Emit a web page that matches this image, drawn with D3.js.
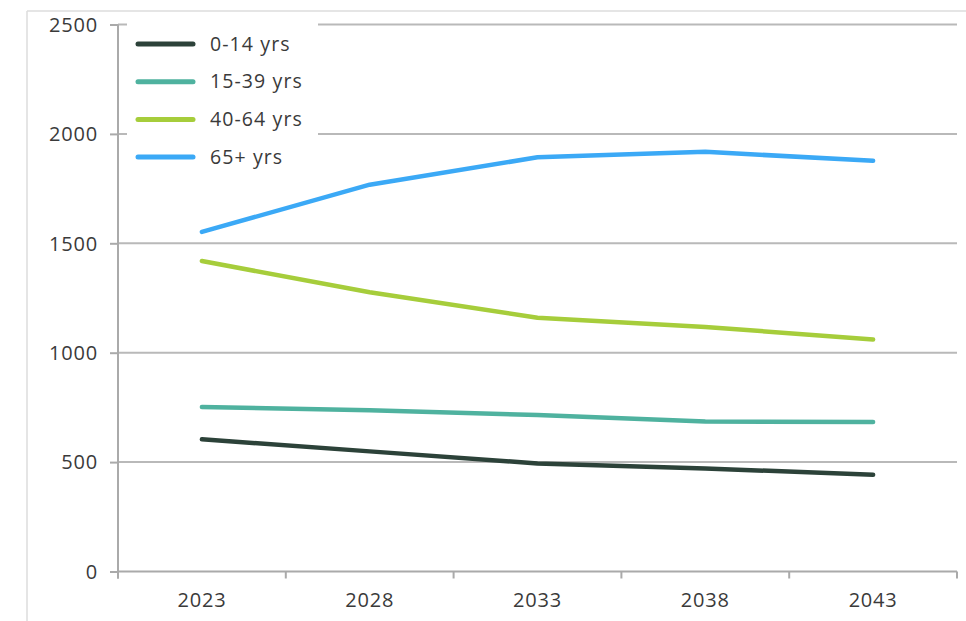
<!DOCTYPE html>
<html>
<head>
<meta charset="utf-8">
<script src="https://cdn.jsdelivr.net/npm/d3@7"></script>
<style>
  html, body { margin: 0; padding: 0; background: #fff; }
  svg text { font-family: "Open Sans", "Noto Sans", sans-serif; }
</style>
</head>
<body>
<svg id="chart" width="966" height="621"></svg>
<script>
// Population projection by age group
const years = ["2023", "2028", "2033", "2038", "2043"];
const seriesNames = ["0-14 yrs", "15-39 yrs", "40-64 yrs", "65+ yrs"];
const age0to14 = [604, 549, 494, 471, 442];
const age15to39 = [752, 737, 715, 686, 683];
const age40to64 = [1419, 1276, 1160, 1118, 1060];
const age65plus = [1552, 1768, 1893, 1918, 1877];
const yTicks = [0, 500, 1000, 1500, 2000, 2500];
const colors = ["#2c4239", "#4fb29f", "#a6cd3b", "#3ba9f6"];

const seriesValues = [age0to14, age15to39, age40to64, age65plus];

const svg = d3.select("#chart");
const plotLeft = 118, plotRight = 957, plotTop = 24.5, plotBottom = 571.5;

// outer frame lines
svg.append("line").attr("x1", 27).attr("x2", 966).attr("y1", 11).attr("y2", 11)
  .attr("stroke", "#dcdcdc").attr("stroke-width", 1.5);
svg.append("line").attr("x1", 27).attr("x2", 27).attr("y1", 11).attr("y2", 621)
  .attr("stroke", "#dcdcdc").attr("stroke-width", 1.5);

const x = d3.scaleBand().domain(years).range([plotLeft, plotRight]);
const y = d3.scaleLinear().domain([0, 2500]).range([plotBottom, plotTop]);

// horizontal gridlines
svg.append("g").selectAll("line").data(yTicks.filter(d => d > 0)).join("line")
  .attr("x1", plotLeft).attr("x2", plotRight)
  .attr("y1", d => y(d)).attr("y2", d => y(d))
  .attr("stroke", "#b9b9b9").attr("stroke-width", 2);

// y axis
const yAxis = svg.append("g").attr("transform", `translate(${plotLeft},0)`)
  .call(d3.axisLeft(y).tickValues(yTicks).tickSize(8).tickPadding(12).tickFormat(d3.format("d")));
yAxis.select(".domain").remove();
yAxis.append("line").attr("x1", 0).attr("x2", 0).attr("y1", plotTop).attr("y2", plotBottom + 7)
  .attr("stroke", "#aaaaaa").attr("stroke-width", 2);
yAxis.selectAll(".tick line").attr("stroke", "#aaaaaa").attr("stroke-width", 2);
yAxis.selectAll(".tick text").attr("fill", "#3a3a3a").attr("font-size", 20)
  .attr("letter-spacing", "0.8px").attr("dy", "0.34em");

// x axis
const xAxis = svg.append("g").attr("transform", `translate(0,${plotBottom})`)
  .call(d3.axisBottom(x).tickSize(0).tickPadding(21));
xAxis.select(".domain").attr("stroke", "#aaaaaa").attr("stroke-width", 2)
  .attr("d", `M${plotLeft},0H${plotRight}`);
xAxis.selectAll(".tick text").attr("fill", "#3a3a3a").attr("font-size", 20)
  .attr("letter-spacing", "0.8px");
// boundary ticks between categories
const bounds = years.map(d => x(d)).concat([plotRight]);
xAxis.append("g").selectAll("line").data(bounds).join("line")
  .attr("x1", d => d).attr("x2", d => d).attr("y1", 0).attr("y2", 7)
  .attr("stroke", "#aaaaaa").attr("stroke-width", 2);

// series lines
const line = d3.line()
  .x((d, i) => x(years[i]) + x.bandwidth() / 2)
  .y(d => y(d));
svg.append("g").selectAll("path").data(seriesValues).join("path")
  .attr("d", d => line(d))
  .attr("fill", "none")
  .attr("stroke", (d, i) => colors[i])
  .attr("stroke-width", 4.5)
  .attr("stroke-linecap", "round")
  .attr("stroke-linejoin", "round");

// legend
const legend = svg.append("g");
legend.append("rect").attr("x", 127).attr("y", 21).attr("width", 191).attr("height", 152)
  .attr("fill", "#fff");
const items = legend.selectAll("g.item").data(seriesNames).join("g")
  .attr("class", "item")
  .attr("transform", (d, i) => `translate(0,${44 + i * 37.7})`);
items.append("line").attr("x1", 138).attr("x2", 193).attr("y1", 0).attr("y2", 0)
  .attr("stroke", (d, i) => colors[i]).attr("stroke-width", 5).attr("stroke-linecap", "round");
items.append("text").attr("x", 210).attr("y", 0).attr("dy", "0.34em")
  .attr("fill", "#3a3a3a").attr("font-size", 19.5).attr("letter-spacing", "1.1px")
  .text(d => d);
</script>
</body>
</html>
